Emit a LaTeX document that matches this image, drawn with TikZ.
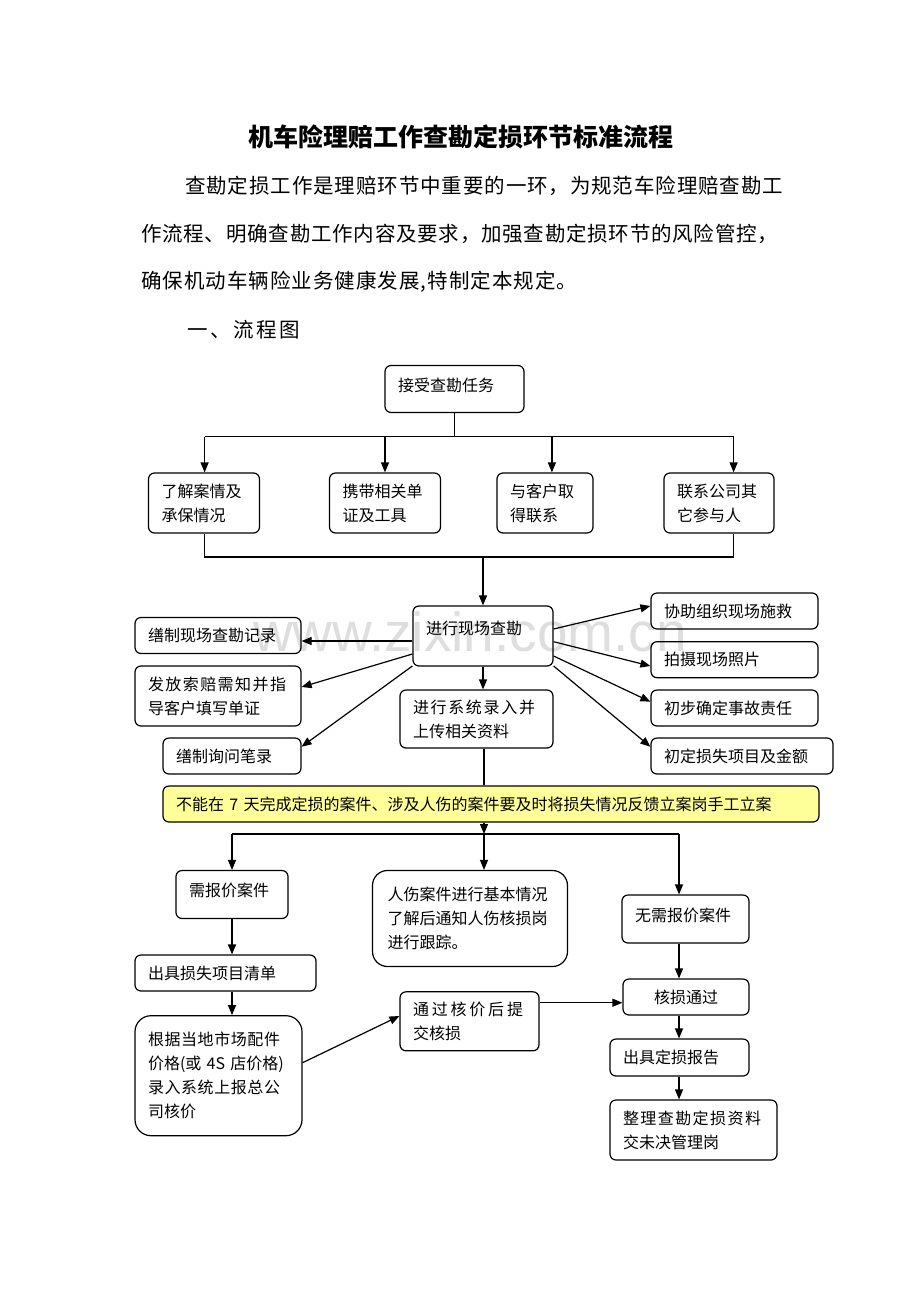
\documentclass[tikz,border=0pt]{standalone}
\usepackage{fontspec}
\setmainfont{Noto Sans CJK SC}
\newfontfamily\wmfont{Liberation Sans}
\usetikzlibrary{arrows.meta}
\definecolor{ylw}{HTML}{FFFF99}
\newcommand\bxf{\fontsize{16}{24}\selectfont}
\newcommand\pf{\fontsize{20.5}{24}\selectfont}
\makeatletter
\def\spr@first#1{#1\spr@loop}
\def\spr@loop#1{\ifx#1\relax\else\hfil#1\expandafter\spr@loop\fi}
\newcommand\spread[2]{\makebox[#1][s]{\spr@first#2\relax}}
\makeatother
\begin{document}
\begin{tikzpicture}[x=1pt,y=-1pt,
  box/.style={draw, line width=1.2pt, rounded corners=6pt, inner sep=0pt, align=left, font=\bxf},
  arr/.style={line width=1.2pt, -{Triangle[length=10pt,width=8pt]}},
  ln/.style={line width=1.2pt}]
\useasboundingbox (0,0) rectangle (920,1302);
\fill[white] (0,0) rectangle (920,1302);
% watermark
\node[text=black!13, font=\wmfont\fontsize{55}{55}\selectfont, inner sep=0pt] (wm) at (470,632) {www.zixin.com.cn};
% heading text
\node[font=\bfseries\fontsize{25}{30}\selectfont, inner sep=0pt] (title) at (461,137) {机车险理赔工作查勘定损环节标准流程};
\node[anchor=west, inner sep=0pt, font=\pf] (p1) at (185,186) {\spread{598pt}{查勘定损工作是理赔环节中重要的一环，为规范车险理赔查勘工}};
\node[anchor=west, inner sep=0pt, font=\pf] (p2) at (141,234) {\spread{637pt}{作流程、明确查勘工作内容及要求，加强查勘定损环节的风险管控，}};
\node[anchor=west, inner sep=0pt, font=\pf] (p3) at (141,282) {\spread{436pt}{确保机动车辆险业务健康发展,特制定本规定。}};
\node[anchor=west, inner sep=0pt, font=\pf] (h1) at (187,330) {\spread{113pt}{一、流程图}};
% boxes
\node[box, minimum width=139pt, minimum height=47pt, text width=113pt, text height=12pt, text depth=8pt] (top) at (454.5,389) {接受查勘任务};
\node[box, minimum width=111pt, minimum height=60pt, text width=85pt] (a1) at (204,503) {了解案情及\\承保情况};
\node[box, minimum width=111pt, minimum height=60pt, text width=85pt] (a2) at (385,503) {携带相关单\\证及工具};
\node[box, minimum width=96pt, minimum height=60pt, text width=70pt] (a3) at (545,503) {与客户取\\得联系};
\node[box, minimum width=110pt, minimum height=60pt, text width=84pt] (a4) at (719,503) {联系公司其\\它参与人};
\node[box, minimum width=140pt, minimum height=60pt, text width=114pt, text height=12pt, text depth=16pt] (site) at (483,636) {进行现场查勘};
\node[box, minimum width=166pt, minimum height=36pt, text width=140pt] (L1) at (218,635.5) {缮制现场查勘记录};
\node[box, minimum width=166pt, minimum height=60pt, text width=140pt] (L2) at (218,696) {\spread{138pt}{发放索赔需知并指}\\导客户填写单证};
\node[box, minimum width=138pt, minimum height=36pt, text width=112pt] (L3) at (232,756) {缮制询问笔录};
\node[box, minimum width=167pt, minimum height=36pt, text width=141pt] (R1) at (734.5,611) {协助组织现场施救};
\node[box, minimum width=167pt, minimum height=36pt, text width=141pt] (R2) at (734.5,659.7) {拍摄现场照片};
\node[box, minimum width=167pt, minimum height=36pt, text width=141pt] (R3) at (734.5,708) {初步确定事故责任};
\node[box, minimum width=182pt, minimum height=36pt, text width=156pt] (R4) at (742,756) {初定损失项目及金额};
\node[box, minimum width=153pt, minimum height=58pt, text width=127pt] (sys) at (476.5,719) {\spread{122pt}{进行系统录入并}\\上传相关资料};
\node[box, fill=ylw, minimum width=656pt, minimum height=36pt, text width=630pt] (yel) at (491,804) {不能在 7 天完成定损的案件、涉及人伤的案件要及时将损失情况反馈立案岗手工立案};
\node[box, minimum width=112pt, minimum height=48pt, text width=86pt, text height=12pt, text depth=8pt] (q1) at (232,894.5) {需报价案件};
\node[box, rounded corners=15pt, minimum width=195pt, minimum height=96pt, text width=165pt] (inj) at (470,918.5) {人伤案件进行基本情况\\了解后通知人伤核损岗\\进行跟踪。};
\node[box, minimum width=127pt, minimum height=48pt, text width=101pt, text height=12pt, text depth=8pt] (q2) at (685.5,919) {无需报价案件};
\node[box, minimum width=181pt, minimum height=36pt, text width=155pt] (list) at (225.5,973) {出具损失项目清单};
\node[box, rounded corners=16pt, minimum width=167pt, minimum height=120pt, text width=141pt] (price) at (218.5,1075.7) {\spread{132pt}{根据当地市场配件}\\价格(或 4S 店价格)\\\spread{132pt}{录入系统上报总公}\\司核价};
\node[box, minimum width=139pt, minimum height=59pt, text width=113pt] (pass) at (469.5,1021.3) {\spread{110pt}{通过核价后提}\\交核损};
\node[box, align=center, minimum width=126pt, minimum height=36pt, text width=100pt] (ok) at (686,997) {核损通过};
\node[box, minimum width=139pt, minimum height=37pt, text width=113pt] (rep) at (679.5,1057.5) {出具定损报告};
\node[box, minimum width=167pt, minimum height=60pt, text width=141pt] (arch) at (693.5,1130) {\spread{138pt}{整理查勘定损资料}\\交未决管理岗};
% junction coordinates
\coordinate (j1) at (454.5,436.5);
\coordinate (j1a) at (204.6,436.5);
\coordinate (j1b) at (385,436.5);
\coordinate (j1c) at (551.9,436.5);
\coordinate (j1d) at (733.6,436.5);
\coordinate (j2a) at (204.6,557);
\coordinate (j2) at (483,557);
\coordinate (j2d) at (733.6,557);
\coordinate (j3) at (484,834);
\coordinate (j3a) at (232,834);
\coordinate (j3c) at (679,834);
% connectors
\draw[ln] (top.south) -- (j1);
\draw[ln] (j1a) -- (j1d);
\draw[arr] (j1a) -- (j1a |- a1.north);
\draw[arr] (j1b) -- (j1b |- a2.north);
\draw[arr] (j1c) -- (j1c |- a3.north);
\draw[arr] (j1d) -- (j1d |- a4.north);
\draw[ln] (j2a |- a1.south) -- (j2a) -- (j2d) -- (j2d |- a4.south);
\draw[arr] (j2) -- (site.north);
\draw[arr] (site.west |- 0,641) -- (L1.east |- 0,641);
\draw[arr] (site.west |- 0,654) -- (L2.east |- 0,687);
\draw[arr] (site.west |- 0,666) -- (L3.east |- 0,746.7);
\draw[arr] (site.south) -- (site.south |- sys.north);
\draw[arr] (site.east |- 0,629) -- (R1.west |- 0,606);
\draw[arr] (site.east |- 0,641.7) -- (R2.west |- 0,666);
\draw[arr] (site.east |- 0,656) -- (R3.west |- 0,701.7);
\draw[arr] (site.east |- 0,666) -- (R4.west |- 0,746.7);
\draw[ln] (j3 |- sys.south) -- (j3 |- yel.north);
\draw[arr] (j3 |- yel.south) -- (j3);
\draw[ln] (j3a) -- (j3c);
\draw[arr] (j3a) -- (j3a |- q1.north);
\draw[arr] (j3) -- (j3 |- inj.north);
\draw[arr] (j3c) -- (j3c |- q2.north);
\draw[arr] (j3a |- q1.south) -- (j3a |- list.north);
\draw[arr] (j3a |- list.south) -- (j3a |- price.north);
\draw[arr] (price.east |- 0,1062.7) -- (pass.west |- 0,1016);
\draw[arr] (pass.east |- 0,1002.7) -- (ok.west |- 0,1002.7);
\draw[arr] (j3c |- q2.south) -- (j3c |- ok.north);
\draw[arr] (j3c |- ok.south) -- (j3c |- rep.north);
\draw[arr] (j3c |- rep.south) -- (j3c |- arch.north);
\end{tikzpicture}
\end{document}
